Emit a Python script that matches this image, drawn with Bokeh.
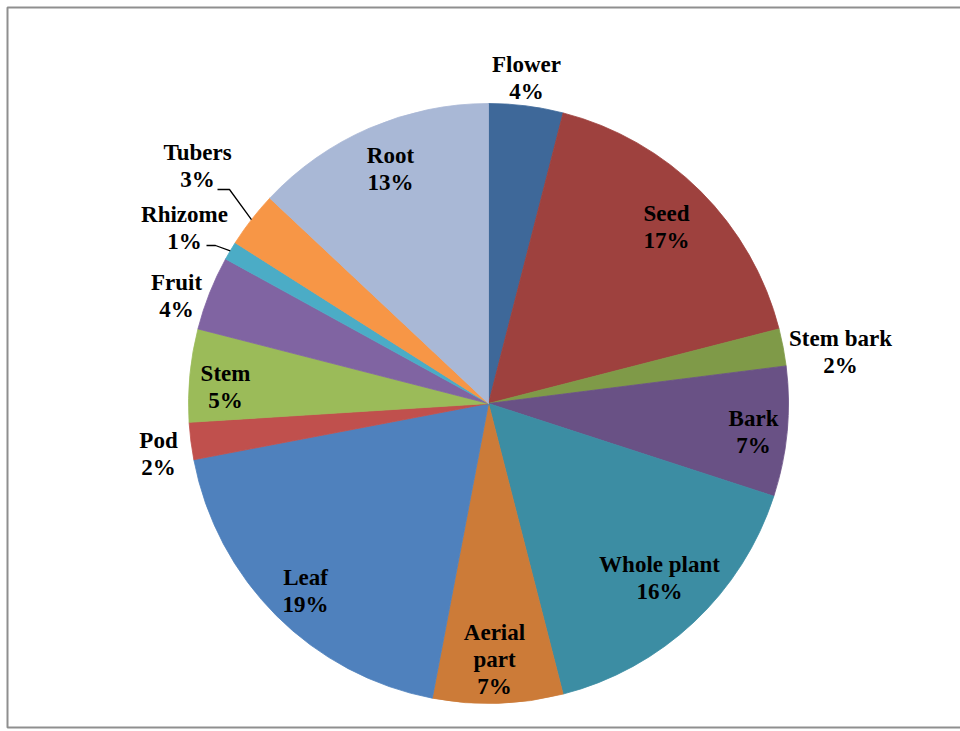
import math
from bokeh.plotting import figure
from bokeh.models import Range1d, ColumnDataSource
from bokeh.core.properties import value
from bokeh.embed import file_html
from bokeh.resources import INLINE

# ---------------- data ----------------
categories = ["Flower", "Seed", "Stem bark", "Bark", "Whole plant", "Aerial part",
              "Leaf", "Pod", "Stem", "Fruit", "Rhizome", "Tubers", "Root"]
percent = [4, 17, 2, 7, 16, 7, 19, 2, 5, 4, 1, 3, 13]
colors = ["#3E6899", "#9E413E", "#7F9A48", "#695185", "#3C8DA3", "#CC7B38",
          "#4F81BD", "#C0504D", "#9BBB59", "#8064A2", "#4BACC6", "#F79646", "#A9B8D6"]

# ---------------- layout (pixel coordinates of the picture) ----------------
W, H = 960, 731
CX, CY_IMG, R = 488, 403, 300

def Y(img_y):
    return H - img_y

# label block centres (picture px)
label_pos = {
    "Flower": (526, 77), "Seed": (666, 226), "Stem bark": (840, 351),
    "Bark": (753, 431), "Whole plant": (659, 577), "Aerial part": (494, 659),
    "Leaf": (305, 590), "Pod": (158, 453), "Stem": (225, 386),
    "Fruit": (176, 295), "Rhizome": (184, 227), "Tubers": (197, 165),
    "Root": (390, 168),
}
# leader lines: label-side start and elbow (picture px)
leaders = {"Tubers": [(217, 189), (229, 189)], "Rhizome": [(206, 245), (215, 245)]}

total = sum(percent)
starts, ends, cum = [], [], 0.0
for v in percent:
    starts.append(math.pi / 2 - 2 * math.pi * cum / total)
    cum += v
    ends.append(math.pi / 2 - 2 * math.pi * cum / total)

p = figure(width=W, height=H, output_backend="svg", toolbar_location=None,
           x_range=Range1d(0, W), y_range=Range1d(0, H),
           min_border=0, x_axis_location=None, y_axis_location=None,
           outline_line_color=None, background_fill_color="white",
           border_fill_color="white")
p.grid.visible = False

# chart frame (right edge falls outside, as in the reference)
p.line(x=[1100, 7, 7, 1100], y=[Y(7), Y(7), Y(727), Y(727)],
       line_color="#8f8f8f", line_width=2)

src = ColumnDataSource(dict(start=starts, end=ends, color=colors, cat=categories))
p.wedge(x=CX, y=Y(CY_IMG), radius=R, start_angle="start", end_angle="end",
        direction="clock", fill_color="color", line_color="color", line_width=0.8,
        source=src)

# leader lines to pie edge at slice mid-angle
lx, ly = [], []
for name, pts in leaders.items():
    i = categories.index(name)
    mid = (starts[i] + ends[i]) / 2
    ex = CX + R * math.cos(mid)
    ey = Y(CY_IMG) + R * math.sin(mid)
    lx.append([pts[0][0], pts[1][0], ex])
    ly.append([Y(pts[0][1]), Y(pts[1][1]), ey])
p.multi_line(xs=lx, ys=ly, line_color="black", line_width=1.3)

texts, tx, ty = [], [], []
for name, v in zip(categories, percent):
    lab = name.replace(" ", "\n") if name == "Aerial part" else name
    texts.append(f"{lab}\n{v}%")
    tx.append(label_pos[name][0])
    ty.append(Y(label_pos[name][1]))
p.text(x=tx, y=ty, text=texts, text_font=value("Liberation Serif"),
       text_font_style="bold", text_font_size="23px", text_align="center",
       text_baseline="middle", text_line_height=1.08, text_color="black")

open("out.html", "w").write(file_html(p, INLINE))
